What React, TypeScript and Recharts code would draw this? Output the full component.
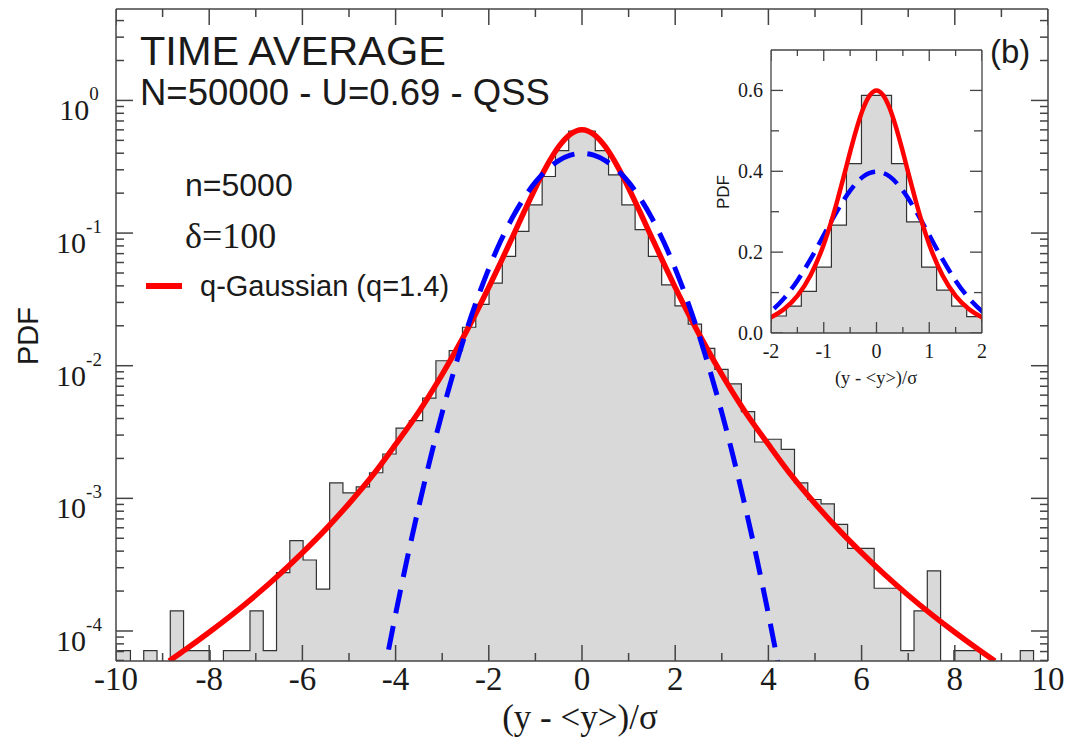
import React from 'react';
import { ComposedChart, Area, Line, Scatter, XAxis, YAxis } from 'recharts';

// histogram: bins of width binWidth, first bin starts at firstBin * binWidth
const binWidth = 0.285;
const firstBin = -35;
const histHeights = [
  7.1e-5, 0, 7.1e-5, 0, 1.42e-4, 7.1e-5, 7.1e-5, 0, 7.1e-5, 7.1e-5,
  1.42e-4, 7.1e-5, 2.75e-4, 4.8e-4, 3.43e-4, 2.07e-4, 1.31e-3, 1.1e-3, 1.22e-3, 1.56e-3,
  2.16e-3, 3.38e-3, 3.85e-3, 5.7e-3, 1.09e-2, 1.3e-2, 1.95e-2, 2.9e-2, 4.2e-2, 6.67e-2,
  0.103, 0.163, 0.267, 0.419, 0.588, 0.588, 0.419, 0.275, 0.163, 0.106,
  0.0667, 0.0407, 0.0283, 0.0206, 0.0135, 9.4e-3, 7.3e-3, 4.5e-3, 2.66e-3, 2.79e-3,
  2.34e-3, 1.31e-3, 9.8e-4, 9.1e-4, 6.37e-4, 4.2e-4, 4.2e-4, 2.1e-4, 2.1e-4, 7.1e-5,
  1.42e-4, 2.84e-4, 0, 7.1e-5, 7.1e-5, 0, 0, 0, 7.1e-5, 0,
];

// q-Gaussian fit (red)
const qGaussX = [
  -8.86, -8.5, -8, -7.5, -7, -6.5, -6, -5.5, -5, -4.5, -4, -3.5, -3, -2.5, -2, -1.75, -1.5, -1.25, -1, -0.875, -0.75, -0.625, -0.5, -0.375, -0.25, -0.125,
  0, 0.125, 0.25, 0.375, 0.5, 0.625, 0.75, 0.875, 1, 1.25, 1.5, 1.75, 2, 2.5, 3, 3.5, 4, 4.5, 5, 5.5, 6, 6.5, 7, 7.5, 8, 8.5, 8.86,
];
const qGaussY = [
  5.94e-5, 7.28e-5, 9.78e-5, 1.335e-4, 1.86e-4, 2.655e-4, 3.89e-4, 5.85e-4, 9.13e-4, 1.48e-3, 2.55e-3, 4.5e-3, 8.6e-3, 0.0176, 0.039, 0.0596, 0.0921, 0.1429, 0.219, 0.268, 0.324, 0.385, 0.448, 0.507, 0.556, 0.5885,
  0.6, 0.5885, 0.556, 0.507, 0.448, 0.385, 0.324, 0.268, 0.219, 0.1429, 0.0921, 0.0596, 0.039, 0.0176, 8.6e-3, 4.5e-3, 2.55e-3, 1.48e-3, 9.13e-4, 5.85e-4, 3.89e-4, 2.655e-4, 1.86e-4, 1.335e-4, 9.78e-5, 7.28e-5, 5.94e-5,
];

// Gaussian (blue dashed)
const gaussX = [
  -4.3, -4, -3.75, -3.5, -3.25, -3, -2.75, -2.5, -2.25, -2, -1.75, -1.5, -1.25, -1, -0.75, -0.5, -0.25,
  0, 0.25, 0.5, 0.75, 1, 1.25, 1.5, 1.75, 2, 2.25, 2.5, 2.75, 3, 3.25, 3.5, 3.75, 4, 4.3,
];
const gaussY = [
  3.85e-5, 1.34e-4, 3.53e-4, 8.73e-4, 2.03e-3, 4.43e-3, 9.08e-3, 0.0175, 0.0317, 0.054, 0.0863, 0.1295, 0.1826, 0.242, 0.301, 0.352, 0.387,
  0.399, 0.387, 0.352, 0.301, 0.242, 0.1826, 0.1295, 0.0863, 0.054, 0.0317, 0.0175, 9.08e-3, 4.43e-3, 2.03e-3, 8.73e-4, 3.53e-4, 1.34e-4, 3.85e-5,
];

// axes
const xDomain = [-10, 10];
const xMajorTicks = [-10, -8, -6, -4, -2, 0, 2, 4, 6, 8, 10];
const xMinorTicks = [-9, -7, -5, -3, -1, 1, 3, 5, 7, 9];
const yDecades = [1e-4, 1e-3, 1e-2, 1e-1, 1];
const yMinorTicks = [
  6e-5, 7e-5, 8e-5, 9e-5,
  2e-4, 3e-4, 4e-4, 5e-4, 6e-4, 7e-4, 8e-4, 9e-4,
  2e-3, 3e-3, 4e-3, 5e-3, 6e-3, 7e-3, 8e-3, 9e-3,
  2e-2, 3e-2, 4e-2, 5e-2, 6e-2, 7e-2, 8e-2, 9e-2,
  0.2, 0.3, 0.4, 0.5, 0.6, 0.7, 0.8, 0.9,
  2, 3, 4,
];
const yDomain = [5.94e-5, 4.89];

const insetXDomain = [-2, 2];
const insetYDomain = [0, 0.7];
const insetXMajor = [-2, -1, 0, 1, 2];
const insetXMinor = [-1.5, -0.5, 0.5, 1.5];
const insetYMajor = [0, 0.2, 0.4, 0.6];
const insetYMinor = [0.1, 0.3, 0.5];

const FLOOR = 1e-7;
const histData = histHeights.map((h, i) => ({ x: (firstBin + i) * binWidth, y: h > 0 ? h : FLOOR }));
histData.push({ x: (firstBin + histHeights.length) * binWidth, y: FLOOR });
const qData = qGaussX.map((x, i) => ({ x, y: qGaussY[i] }));
const gData = gaussX.map((x, i) => ({ x, y: gaussY[i] }));

// tick positions along the frame, placed through the chart scales
const onBottom = (ticks: number[], yd: number[]) => ticks.map((x) => ({ x, y: yd[0] }));
const onTop = (ticks: number[], yd: number[]) => ticks.map((x) => ({ x, y: yd[1] }));
const onLeft = (ticks: number[], xd: number[]) => ticks.map((y) => ({ x: xd[0], y }));
const onRight = (ticks: number[], xd: number[]) => ticks.map((y) => ({ x: xd[1], y }));

const SERIF = '"Liberation Serif", "DejaVu Serif", serif';
const SANS = '"Liberation Sans", Arial, sans-serif';
const FRAME = '#444';
const INK = '#1a1a1a';

const tickShape = (dx: number, dy: number, w: number) => (p: any) => (
  <path d={`M${p.cx},${p.cy}l${dx},${dy}`} stroke={FRAME} strokeWidth={w} fill="none" />
);

const BottomLabel = ({ x, y, payload }: any) => (
  <text x={x} y={y + 29} textAnchor="middle" fontFamily={SERIF} fontSize={33} fill={INK}>
    {payload.value}
  </text>
);

const LeftLabel = ({ y, payload }: any) => {
  const exp = Math.round(Math.log10(payload.value));
  return (
    <text x={79} y={y + 20} textAnchor="middle" fontFamily={SERIF} fill={INK}>
      <tspan fontSize={30}>10</tspan>
      <tspan fontSize={19} dy={-20}>{exp}</tspan>
    </text>
  );
};

const InsetBottomLabel = ({ x, y, payload }: any) => (
  <text x={x} y={y + 25} textAnchor="middle" fontFamily={SERIF} fontSize={20} fill={INK}>
    {payload.value}
  </text>
);

const InsetLeftLabel = ({ x, y, payload }: any) => (
  <text x={x - 8} y={y + 7} textAnchor="end" fontFamily={SERIF} fontSize={20} fill={INK}>
    {payload.value.toFixed(1)}
  </text>
);

const frameLine = { stroke: FRAME, strokeWidth: 1.5 };
const insetFrameLine = { stroke: FRAME, strokeWidth: 1.3 };

export default function App() {
  return (
    <div style={{ position: 'absolute', left: 0, top: 0, width: 1068, height: 737, background: '#fff' }}>
      <ComposedChart width={1068} height={737} margin={{ top: 9, right: 20, bottom: 0, left: 0 }}>
        <XAxis
          dataKey="x" type="number" domain={xDomain} allowDataOverflow ticks={xMajorTicks} interval={0}
          height={76} tickSize={0} tickMargin={0} tickLine={false} axisLine={frameLine}
          tick={(p: any) => <BottomLabel {...p} />}
        />
        <YAxis
          type="number" scale="log" domain={yDomain} allowDataOverflow ticks={yDecades} interval={0}
          width={116} tickSize={0} tickMargin={0} tickLine={false} axisLine={frameLine}
          tick={(p: any) => <LeftLabel {...p} />}
        />
        {/* top and right frame lines */}
        <XAxis xAxisId="top" mirror orientation="top" type="number" domain={xDomain} allowDataOverflow
          ticks={xMajorTicks} tick={false} tickLine={false} axisLine={frameLine} />
        <YAxis yAxisId="right" mirror orientation="right" type="number" scale="log" domain={yDomain}
          allowDataOverflow ticks={yDecades} tick={false} tickLine={false} axisLine={frameLine} />

        <Area
          data={histData} dataKey="y" type="stepAfter" fill="#d9d9d9" fillOpacity={1}
          stroke="#333" strokeWidth={1.2} isAnimationActive={false} dot={false} activeDot={false}
        />
        <Line
          data={qData} dataKey="y" type="monotone" stroke="#ff0000" strokeWidth={5.5}
          dot={false} activeDot={false} isAnimationActive={false}
        />
        <Line
          data={gData} dataKey="y" type="monotone" stroke="#0000ff" strokeWidth={5}
          strokeDasharray="24 13" dot={false} activeDot={false} isAnimationActive={false}
        />

        {/* inward tick marks on all four sides */}
        <Scatter data={onBottom(xMajorTicks, yDomain)} dataKey="y" shape={tickShape(0, -16, 1.5)} isAnimationActive={false} />
        <Scatter data={onBottom(xMinorTicks, yDomain)} dataKey="y" shape={tickShape(0, -8, 1.5)} isAnimationActive={false} />
        <Scatter data={onTop(xMajorTicks, yDomain)} dataKey="y" shape={tickShape(0, 16, 1.5)} isAnimationActive={false} />
        <Scatter data={onTop(xMinorTicks, yDomain)} dataKey="y" shape={tickShape(0, 8, 1.5)} isAnimationActive={false} />
        <Scatter data={onLeft(yDecades, xDomain)} dataKey="y" shape={tickShape(17, 0, 1.5)} isAnimationActive={false} />
        <Scatter data={onLeft(yMinorTicks, xDomain)} dataKey="y" shape={tickShape(8, 0, 1.5)} isAnimationActive={false} />
        <Scatter data={onRight(yDecades, xDomain)} dataKey="y" shape={tickShape(-17, 0, 1.5)} isAnimationActive={false} />
        <Scatter data={onRight(yMinorTicks, xDomain)} dataKey="y" shape={tickShape(-8, 0, 1.5)} isAnimationActive={false} />
      </ComposedChart>

      <div style={{ position: 'absolute', left: 700, top: 40 }}>
        <ComposedChart width={300} height={360} margin={{ top: 10, right: 18, bottom: 0, left: 0 }}>
          <XAxis
            dataKey="x" type="number" domain={insetXDomain} allowDataOverflow ticks={insetXMajor} interval={0}
            height={67} tickSize={0} tickMargin={0} tickLine={false} axisLine={insetFrameLine}
            tick={(p: any) => <InsetBottomLabel {...p} />}
          />
          <YAxis
            type="number" domain={insetYDomain} allowDataOverflow ticks={insetYMajor} interval={0}
            width={71} tickSize={0} tickMargin={0} tickLine={false} axisLine={insetFrameLine}
            tick={(p: any) => <InsetLeftLabel {...p} />}
          />
          <XAxis xAxisId="top" mirror orientation="top" type="number" domain={insetXDomain} allowDataOverflow
            ticks={insetXMajor} tick={false} tickLine={false} axisLine={insetFrameLine} />
          <YAxis yAxisId="right" mirror orientation="right" type="number" domain={insetYDomain}
            allowDataOverflow ticks={insetYMajor} tick={false} tickLine={false} axisLine={insetFrameLine} />

          <Area
            data={histData} dataKey="y" type="stepAfter" fill="#d9d9d9" fillOpacity={1}
            stroke="#333" strokeWidth={1.2} isAnimationActive={false} dot={false} activeDot={false}
          />
          <Line
            data={gData} dataKey="y" type="monotone" stroke="#0000ff" strokeWidth={4.5}
            strokeDasharray="17 9" dot={false} activeDot={false} isAnimationActive={false}
          />
          <Line
            data={qData} dataKey="y" type="monotone" stroke="#ff0000" strokeWidth={4.5}
            dot={false} activeDot={false} isAnimationActive={false}
          />

          <Scatter data={onBottom(insetXMajor, insetYDomain)} dataKey="y" shape={tickShape(0, -11, 1.3)} isAnimationActive={false} />
          <Scatter data={onBottom(insetXMinor, insetYDomain)} dataKey="y" shape={tickShape(0, -6, 1.3)} isAnimationActive={false} />
          <Scatter data={onTop(insetXMajor, insetYDomain)} dataKey="y" shape={tickShape(0, 11, 1.3)} isAnimationActive={false} />
          <Scatter data={onTop(insetXMinor, insetYDomain)} dataKey="y" shape={tickShape(0, 6, 1.3)} isAnimationActive={false} />
          <Scatter data={onLeft(insetYMajor, insetXDomain)} dataKey="y" shape={tickShape(12, 0, 1.3)} isAnimationActive={false} />
          <Scatter data={onLeft(insetYMinor, insetXDomain)} dataKey="y" shape={tickShape(8, 0, 1.3)} isAnimationActive={false} />
          <Scatter data={onRight(insetYMajor, insetXDomain)} dataKey="y" shape={tickShape(-12, 0, 1.3)} isAnimationActive={false} />
          <Scatter data={onRight(insetYMinor, insetXDomain)} dataKey="y" shape={tickShape(-8, 0, 1.3)} isAnimationActive={false} />
        </ComposedChart>
      </div>

      <svg width={1068} height={737} style={{ position: 'absolute', left: 0, top: 0, pointerEvents: 'none' }}>
        <text x={140} y={65} fontFamily={SANS} fontSize={41.5} fill={INK}>TIME AVERAGE</text>
        <text x={140} y={105} fontFamily={SANS} fontSize={36.5} fill={INK}>N=50000 - U=0.69 - QSS</text>
        <text x={185} y={196} fontFamily={SANS} fontSize={32} fill={INK}>n=5000</text>
        <text x={185} y={248} fontFamily={SERIF} fontSize={36} fill={INK}>δ=100</text>
        <line x1={146} x2={182} y1={286} y2={286} stroke="#ff0000" strokeWidth={6} />
        <text x={200} y={296} fontFamily={SANS} fontSize={29} fill={INK}>q-Gaussian (q=1.4)</text>
        <text x={990} y={63} fontFamily={SANS} fontSize={33} fill={INK}>(b)</text>
        <text x={0} y={0} transform="translate(38 336) rotate(-90)" textAnchor="middle" fontFamily={SANS} fontSize={29} fill={INK}>PDF</text>
        <text x={580} y={729} textAnchor="middle" fontFamily={SERIF} fontSize={35} fill={INK}>(y - &lt;y&gt;)/σ</text>
        <text x={0} y={0} transform="translate(729 192) rotate(-90)" textAnchor="middle" fontFamily={SANS} fontSize={17} fill={INK}>PDF</text>
        <text x={876} y={384} textAnchor="middle" fontFamily={SERIF} fontSize={18.5} fill={INK}>(y - &lt;y&gt;)/σ</text>
      </svg>
    </div>
  );
}
